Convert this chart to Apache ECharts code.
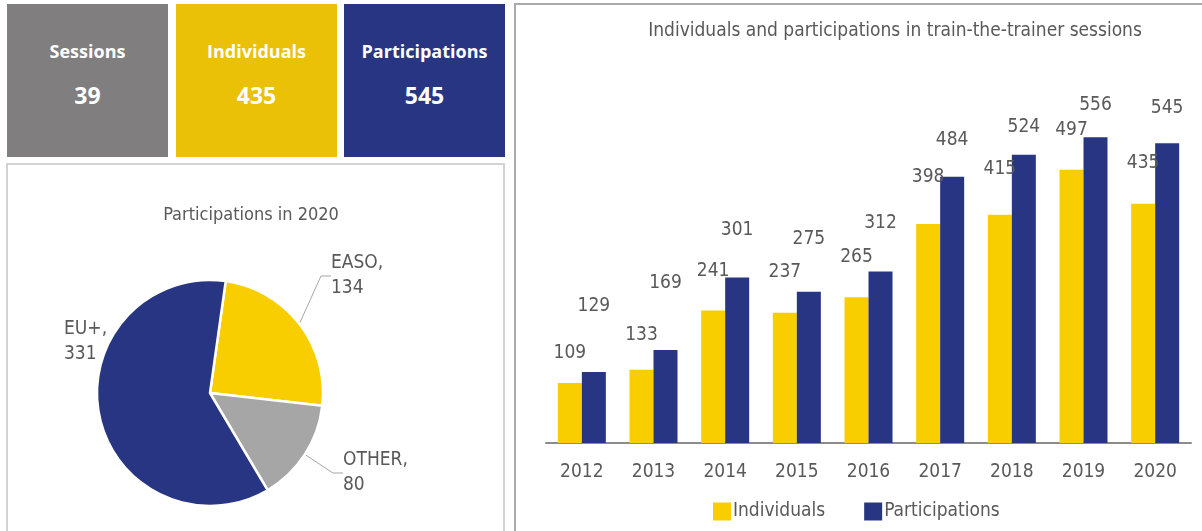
<!DOCTYPE html>
<html>
<head>
<meta charset="utf-8">
<script src="https://cdn.jsdelivr.net/npm/echarts@6/dist/echarts.min.js"></script>
<style>
  html, body { margin: 0; padding: 0; background: #fff; }
  body { width: 1202px; height: 531px; position: relative; overflow: hidden; font-family: 'Open Sans', 'Noto Sans', sans-serif; }
  .kpi { position: absolute; top: 4px; width: 161px; height: 153px; color: #fff; text-align: center; font-weight: bold; }
  .kpi .name { position: absolute; left: 0; right: 0; top: 34px; font-size: 18px; line-height: 26px; }
  .kpi .num { position: absolute; left: 0; right: 0; top: 74px; font-size: 23px; line-height: 34px; }
  .panel { position: absolute; box-sizing: border-box; }
  #piePanel { left: 6px; top: 163px; width: 499px; height: 400px; border: 2px solid #d3d3d3; }
  #barPanel { left: 514px; top: 3px; width: 700px; height: 560px; border: 2px solid #a9a9a9; }
  #main { position: absolute; left: 0; top: 0; width: 1202px; height: 531px; }
</style>
</head>
<body>
<div id="kpiBoxes"></div>
<div class="panel" id="piePanel"></div>
<div class="panel" id="barPanel"></div>
<div id="main"></div>
<script>
// kpi boxes
var kpiNames = ['Sessions', 'Individuals', 'Participations'];
var kpiValues = [39, 435, 545];
var kpiColors = ['#807e7f', '#ebc108', '#283583'];

// bar chart data
var years = ['2012', '2013', '2014', '2015', '2016', '2017', '2018', '2019', '2020'];
var individuals = [109, 133, 241, 237, 265, 398, 415, 497, 435];
var participations = [129, 169, 301, 275, 312, 484, 524, 556, 545];
// label lift above each bar (the original labels were moved by hand)
var indLabelGap = [20, 25, 30, 31, 31, 38, 36, 30, 31];
var partLabelGap = [56, 57, 38, 43, 39, 27, 18, 23, 26];

// pie data
var pieNames = ['EASO', 'OTHER', 'EU+'];
var pieValues = [134, 80, 331];
var pieColors = ['#f9ce00', '#a6a6a6', '#283583'];
var pieLabelPos = [[331, 276], [343, 473], [64, 342]];

var box = document.getElementById('kpiBoxes');
var lefts = [7, 176, 344];
kpiNames.forEach(function (n, i) {
  var d = document.createElement('div');
  d.className = 'kpi';
  d.style.left = lefts[i] + 'px';
  d.style.background = kpiColors[i];
  d.innerHTML = '<div class="name">' + n + '</div><div class="num">' + kpiValues[i] + '</div>';
  box.appendChild(d);
});

var txt = '#595959';
var font = "'Liberation Sans Narrow', 'DejaVu Sans Condensed', 'Noto Sans', sans-serif";

var myChart = echarts.init(document.getElementById('main'), null, { renderer: 'canvas' });

var option = {
  animation: false,
  textStyle: { fontFamily: font },
  title: [
    {
      text: 'Individuals and participations in train-the-trainer sessions',
      left: 890, top: 17, textAlign: 'center',
      textStyle: { fontFamily: font, fontSize: 19, fontWeight: 'normal', color: txt }
    },
    {
      text: 'Participations in 2020',
      left: 246, top: 201, textAlign: 'center',
      textStyle: { fontFamily: font, fontSize: 18, fontWeight: 'normal', color: txt }
    }
  ],
  legend: {
    data: ['Individuals', 'Participations'],
    left: 713, top: 502,
    padding: 0,
    itemWidth: 18, itemHeight: 18, itemGap: 39,
    icon: 'rect',
    textStyle: { fontFamily: font, fontSize: 19, color: txt, padding: [0, 0, 0, -3] }
  },
  grid: { left: 546, right: 11, top: 58, bottom: 88 },
  xAxis: {
    type: 'category',
    data: years,
    axisLine: { lineStyle: { color: '#8c8c8c', width: 2 } },
    axisTick: { show: false },
    axisLabel: { fontFamily: font, fontSize: 19, color: txt, margin: 20 }
  },
  yAxis: { type: 'value', min: 0, max: 700, show: false, splitLine: { show: false } },
  series: [
    {
      name: 'Individuals',
      type: 'bar',
      barGap: 0,
      barCategoryGap: '33%',
      itemStyle: { color: '#f9ce00' },
      label: { show: true, position: 'top', fontFamily: font, fontSize: 19, color: txt },
      data: individuals.map(function (v, i) {
        return { value: v, label: { distance: indLabelGap[i] } };
      })
    },
    {
      name: 'Participations',
      type: 'bar',
      itemStyle: { color: '#283583' },
      label: { show: true, position: 'top', fontFamily: font, fontSize: 19, color: txt },
      data: participations.map(function (v, i) {
        return { value: v, label: { distance: partLabelGap[i] } };
      })
    },
    {
      name: 'Participations in 2020',
      type: 'pie',
      center: [210, 393],
      radius: 113,
      startAngle: 82,
      clockwise: true,
      legendHoverLink: false,
      itemStyle: { borderColor: '#fff', borderWidth: 2.5 },
      label: {
        show: true,
        formatter: '{b},\n{c}',
        fontFamily: font, fontSize: 19, lineHeight: 25, color: txt
      },
      labelLine: { show: true, length: 10, length2: 10, lineStyle: { color: '#a6a6a6', width: 1 } },
      labelLayout: function (p) {
        var pos = pieLabelPos[p.dataIndex];
        return { x: pos[0], y: pos[1], align: 'left', verticalAlign: 'middle' };
      },
      data: pieNames.map(function (n, i) {
        var d = { name: n, value: pieValues[i], itemStyle: { color: pieColors[i] } };
        if (n === 'EU+') d.labelLine = { show: false };
        return d;
      })
    }
  ]
};

myChart.setOption(option);
</script>
</body>
</html>
